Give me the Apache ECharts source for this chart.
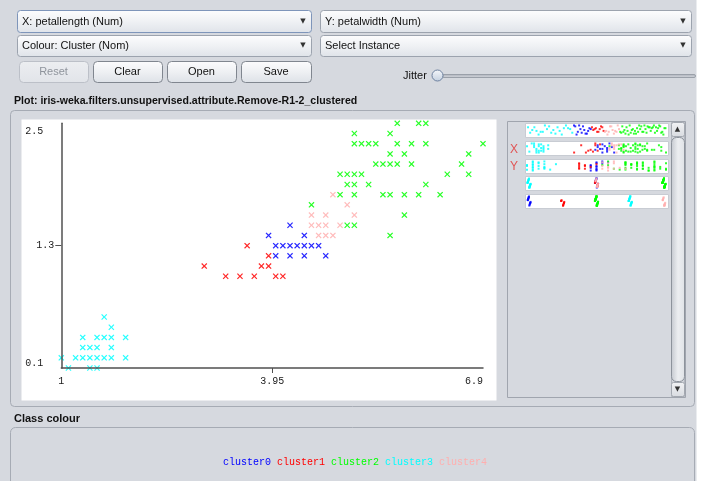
<!DOCTYPE html>
<html><head><meta charset="utf-8">
<script src="https://cdn.jsdelivr.net/npm/echarts@6/dist/echarts.min.js"></script>
<style>html,body{margin:0;padding:0;background:#fff;}#c{width:713px;height:481px;}</style>
</head><body><div id="c"></div>
<script>
// ---------------- data ----------------
const clusterNames = ['cluster0', 'cluster1', 'cluster2', 'cluster3', 'cluster4'];
const clusterColors = ['#0000ff', '#ff0000', '#00ff00', '#00ffff', '#ffafaf'];
// [petallength, petalwidth]
const cluster0 = [[4.2,1.5],[3.9,1.4],[4.4,1.4],[4.0,1.3],[4.1,1.3],[4.2,1.3],[4.3,1.3],[4.4,1.3],[4.5,1.3],[4.6,1.3],[4.0,1.2],[4.2,1.2],[4.4,1.2],[4.7,1.2]];
const cluster1 = [[3.6,1.3],[3.9,1.2],[3.0,1.1],[3.8,1.1],[3.9,1.1],[3.3,1.0],[3.5,1.0],[3.7,1.0],[4.0,1.0],[4.1,1.0]];
const cluster2 = [[5.7,2.5],[6.0,2.5],[6.1,2.5],[5.1,2.4],[5.6,2.4],[5.1,2.3],[5.2,2.3],[5.3,2.3],[5.4,2.3],[5.7,2.3],[5.9,2.3],[6.1,2.3],[6.9,2.3],[5.6,2.2],[5.8,2.2],[6.7,2.2],[5.4,2.1],[5.5,2.1],[5.6,2.1],[5.7,2.1],[5.9,2.1],[6.6,2.1],[4.9,2.0],[5.0,2.0],[5.1,2.0],[5.2,2.0],[6.4,2.0],[6.7,2.0],[5.0,1.9],[5.1,1.9],[5.3,1.9],[6.1,1.9],[4.9,1.8],[5.1,1.8],[5.5,1.8],[5.6,1.8],[5.8,1.8],[6.0,1.8],[6.3,1.8],[4.5,1.7],[5.8,1.6],[5.0,1.5],[5.1,1.5],[5.6,1.4]];
const cluster3 = [[1.6,0.6],[1.7,0.5],[1.3,0.4],[1.5,0.4],[1.6,0.4],[1.7,0.4],[1.9,0.4],[1.3,0.3],[1.4,0.3],[1.5,0.3],[1.7,0.3],[1.0,0.2],[1.2,0.2],[1.3,0.2],[1.4,0.2],[1.5,0.2],[1.6,0.2],[1.7,0.2],[1.9,0.2],[1.1,0.1],[1.4,0.1],[1.5,0.1]];
const cluster4 = [[4.8,1.8],[5.0,1.7],[4.5,1.6],[4.7,1.6],[5.1,1.6],[4.5,1.5],[4.6,1.5],[4.7,1.5],[4.9,1.5],[4.6,1.4],[4.7,1.4],[4.8,1.4]];
const clusters = [cluster0, cluster1, cluster2, cluster3, cluster4];
// class index of each cluster (0 setosa, 1 versicolor, 2 virginica)
const clusterClass = [1, 1, 2, 0, 1];

const xTickValues = [1, 3.95, 6.9];
const xTickLabels = ['1', '3.95', '6.9'];
const yTickValues = [0.1, 1.3, 2.5];
const yTickLabels = ['0.1', '1.3', '2.5'];

// ---------------- helpers ----------------
const uiFont = '"Liberation Sans", Arial, sans-serif';
const monoFont = '"Liberation Mono", "Courier New", monospace';
const xSymbol = 'path://M0,1.4L1.4,0L5,3.6L8.6,0L10,1.4L6.4,5L10,8.6L8.6,10L5,6.4L1.4,10L0,8.6L3.6,5Z';
function lin(stops) {
  return {type: 'linear', x: 0, y: 0, x2: 0, y2: 1, colorStops: stops.map((c, i) => ({offset: i / (stops.length - 1), color: c}))};
}
const g = [];
function rect(x, y, w, h, fill, stroke, r, z) {
  g.push({type: 'rect', silent: true, z: z || 0, shape: {x: x + 0.5, y: y + 0.5, width: w, height: h, r: r || 0},
    style: {fill: fill, stroke: stroke || null, lineWidth: 1}});
}
function text(x, y, t, font, fill, align, extra) {
  g.push(Object.assign({type: 'text', silent: true, z: 5, x: x, y: y,
    style: {text: t, font: font, fill: fill, align: align || 'left', verticalAlign: 'middle'}}, extra || {}));
}
function combo(x, y, w, h, t, focused) {
  rect(x, y, w, h, lin(['#fdfdfe', '#eff1f4', '#dfe3e9']), focused ? '#7e95ba' : '#9ca3ae', 3);
  text(x + 5, y + h / 2 + 0.5, t, '11px ' + uiFont, '#111');
  text(x + w - 8, y + h / 2, '\u25BC', '7px "DejaVu Sans"', '#333', 'center');
}
function button(x, y, w, h, t, disabled) {
  rect(x, y, w, h, disabled ? lin(['#eceef1', '#e1e4e9']) : lin(['#fcfcfd', '#eef0f3', '#dde1e7']), disabled ? '#bcc0c8' : '#80868f', 4);
  text(x + w / 2, y + h / 2 + 0.5, t, '11px ' + uiFont, disabled ? '#8f949c' : '#111', 'center');
}

// ---------------- UI chrome ----------------
rect(-1, -1, 697, 483, '#d6d9df', null, 0, -1);
combo(17, 10, 294, 22, 'X: petallength (Num)', true);
combo(320, 10, 371, 22, 'Y: petalwidth (Num)', false);
combo(17, 35, 294, 21, 'Colour: Cluster (Nom)', false);
combo(320, 35, 371, 21, 'Select Instance', false);
button(19, 61, 69, 21, 'Reset', true);
button(93, 61, 69, 21, 'Clear', false);
button(167, 61, 69, 21, 'Open', false);
button(241, 61, 70, 21, 'Save', false);
text(403, 76, 'Jitter', '11px ' + uiFont, '#111');
rect(442, 74, 253, 3, lin(['#a9aeb7', '#d9dce1']), '#9aa0a9', 1.5);
g.push({type: 'circle', silent: true, z: 2, shape: {cx: 437.5, cy: 75.5, r: 5.5},
  style: {fill: lin(['#f6f8fb', '#c3cfdf']), stroke: '#6d819f', lineWidth: 1}});
text(14, 101, 'Plot: iris-weka.filters.unsupervised.attribute.Remove-R1-2_clustered', 'bold 11px ' + uiFont, '#111', 'left', {scaleX: 0.96});
// plot panel
rect(10, 110, 684, 296, '#d6d9df', '#a6abb4', 4);
rect(21, 119, 475, 281, '#ffffff', null, 0, 1);
// attribute panel
rect(507, 121, 178, 276, '#d6d9df', '#a0a5ae', 0, 1);
const stripTops = [123, 141, 159, 176, 194];
stripTops.forEach(t => rect(525, t, 143, 14, '#ffffff', '#c8ccd3', 0, 1));
text(514, 150, 'X', '12px ' + uiFont, '#e05555', 'center');
text(514, 167, 'Y', '12px ' + uiFont, '#e05555', 'center');
// scrollbar
rect(671, 122, 13, 274, '#d0d3d9', '#b2b6be', 0, 1);
rect(671, 122, 13, 14, lin(['#f2f3f5', '#d8dbe0']), '#a3a8b0', 2, 2);
text(677.5, 129.5, '\u25B2', '7px "DejaVu Sans"', '#333', 'center');
rect(671, 137, 13, 244, {type: 'linear', x: 0, y: 0, x2: 1, y2: 0, colorStops: [{offset: 0, color: '#c3c7ce'}, {offset: 0.5, color: '#eceef1'}, {offset: 1, color: '#dfe2e6'}]}, '#8d939c', 5, 2);
rect(671, 382, 13, 14, lin(['#f2f3f5', '#d8dbe0']), '#a3a8b0', 2, 2);
text(677.5, 389.5, '\u25BC', '7px "DejaVu Sans"', '#333', 'center');
// class colour panel
text(14, 419, 'Class colour', 'bold 11px ' + uiFont, '#111');
rect(10, 427, 684, 70, '#d6d9df', '#a6abb4', 5);

// ---------------- series ----------------
const series = [];
clusters.forEach((pts, i) => {
  series.push({type: 'scatter', name: clusterNames[i], xAxisIndex: 0, yAxisIndex: 0, data: pts,
    symbol: xSymbol, symbolSize: 6, silent: true, z: 3,
    itemStyle: {color: clusterColors[i], opacity: 0.85}});
});
// attribute strips: horizontal = attribute value, vertical = display jitter (placement only)
function jitter(p, salt) {
  return (((Math.round(p[0] * 10) * 7 + Math.round(p[1] * 10) * 13 + salt * 5) % 11) + 0.5) / 11;
}
const classCounts = [0, 0, 0];
clusters.forEach((pts, i) => classCounts[clusterClass[i]] += pts.length);
const classRank = [0, 0, 0];
const stripData = [[], [], [], [], []].map(() => clusters.map(() => []));
clusters.forEach((pts, i) => {
  const c = clusterClass[i];
  pts.forEach(p => {
    const inst = c * 50 + (classRank[c] + 0.5) * 50 / classCounts[c];
    classRank[c]++;
    stripData[0][i].push([inst, jitter(p, 1)]);
    stripData[1][i].push([p[0], jitter(p, 2)]);
    stripData[2][i].push([p[1], jitter(p, 3)]);
    stripData[3][i].push([c + (jitter(p, 4) - 0.5) * 0.05, jitter(p, 5)]);
    stripData[4][i].push([i + (jitter(p, 6) - 0.5) * 0.1, jitter(p, 7)]);
  });
});
const stripX = [[0, 150], [1, 6.9], [0.1, 2.5], [-0.03, 2.03], [-0.06, 4.06]];
const grids = [{left: 61.3, top: 123.3, width: 421.7, height: 244.7}];
const xAxes = [{
  gridIndex: 0, type: 'value', min: 1, max: 6.9, z: 10,
  axisLine: {show: true, onZero: false, lineStyle: {color: '#505050', width: 1.5}},
  axisTick: {show: true, customValues: [3.95], length: 5, lineStyle: {color: '#505050'}},
  axisLabel: {show: true, customValues: xTickValues, margin: 8, fontFamily: monoFont, fontSize: 10, color: '#1a1a1a',
    alignMaxLabel: 'right', formatter: v => xTickLabels[xTickValues.findIndex(t => Math.abs(t - v) < 1e-6)]},
  splitLine: {show: false}
}];
const yAxes = [{
  gridIndex: 0, type: 'value', min: 0.1, max: 2.5, z: 10,
  axisLine: {show: true, onZero: false, lineStyle: {color: '#505050', width: 1.5}},
  axisTick: {show: true, customValues: [1.3], length: 6, lineStyle: {color: '#505050'}},
  axisLabel: {show: true, customValues: yTickValues, margin: 7, fontFamily: monoFont, fontSize: 10, color: '#1a1a1a',
    verticalAlignMinLabel: 'bottom', verticalAlignMaxLabel: 'top',
    formatter: v => {
      const idx = yTickValues.findIndex(t => Math.abs(t - v) < 1e-6);
      if (idx === 1) return yTickLabels[idx];
      return (idx === 2 ? '{t|' : '{o|') + yTickLabels[idx] + '}';
    },
    rich: {
      o: {padding: [0, 11, 0, 0], fontFamily: monoFont, fontSize: 10, color: '#1a1a1a'},
      t: {padding: [3, 11, 0, 0], fontFamily: monoFont, fontSize: 10, color: '#1a1a1a'}
    }},
  splitLine: {show: false}
}];
stripTops.forEach((t, k) => {
  grids.push({left: 527, top: t + 2, width: 139, height: 10});
  xAxes.push({gridIndex: k + 1, type: 'value', show: false, min: stripX[k][0], max: stripX[k][1]});
  yAxes.push({gridIndex: k + 1, type: 'value', show: false, min: 0, max: 1});
  clusters.forEach((pts, i) => {
    series.push({type: 'scatter', name: clusterNames[i], xAxisIndex: k + 1, yAxisIndex: k + 1,
      data: stripData[k][i], symbol: 'rect', symbolSize: 2, silent: true, z: 3,
      itemStyle: {color: clusterColors[i]}});
  });
});

const chart = echarts.init(document.getElementById('c'), null, {renderer: 'canvas'});
chart.setOption({
  animation: false,
  backgroundColor: '#ffffff',
  grid: grids,
  xAxis: xAxes,
  yAxis: yAxes,
  legend: {
    left: 213, top: 452, itemGap: 1, itemWidth: 0, itemHeight: 10, selectedMode: false,
    itemStyle: {opacity: 0},
    textStyle: {fontFamily: monoFont, fontSize: 10},
    data: clusterNames.map((n, i) => ({name: n, textStyle: {color: clusterColors[i]}}))
  },
  graphic: {elements: g},
  series: series
});
</script>
</body></html>
